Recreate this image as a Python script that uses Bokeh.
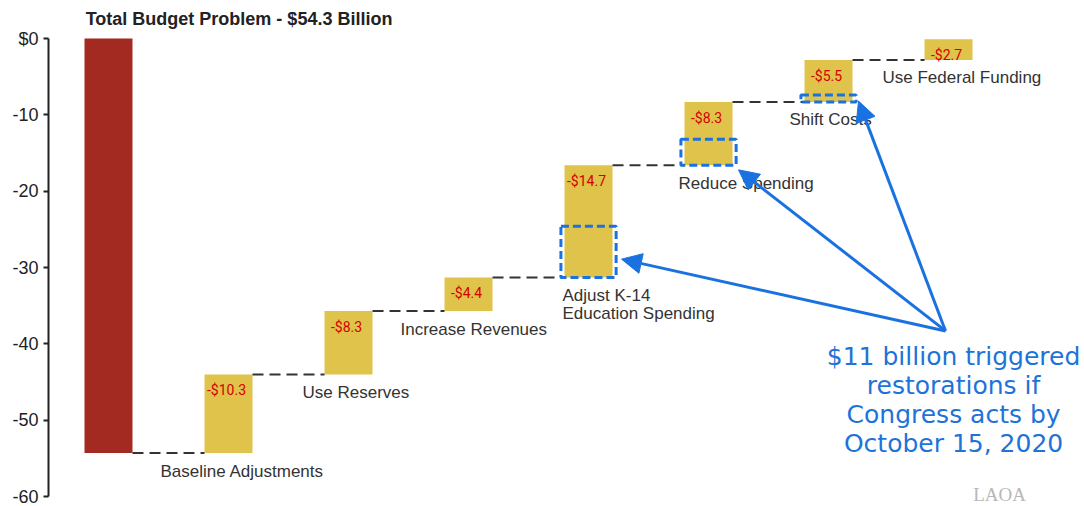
from bokeh.plotting import figure
from bokeh.models import Range1d, Label, Arrow, NormalHead, FixedTicker
from bokeh.embed import file_html
from bokeh.resources import INLINE

# ---------------- data ----------------
title_text = "Total Budget Problem - $54.3 Billion"
total_problem = -54.3
step_names = ["Baseline Adjustments", "Use Reserves", "Increase Revenues",
              "Adjust K-14\nEducation Spending", "Reduce Spending",
              "Shift Costs", "Use Federal Funding"]
step_values = [10.3, 8.3, 4.4, 14.7, 8.3, 5.5, 2.7]
step_labels = ["-$10.3", "-$8.3", "-$4.4", "-$14.7", "-$8.3", "-$5.5", "-$2.7"]
# triggered restorations (billions) drawn as dashed boxes: (step index, amount)
restore_steps = [3, 4, 5]
restore_values = [6.7, 3.4, 0.9]
note_lines = ["$11 billion triggered", "restorations if",
              "Congress acts by", "October 15, 2020"]
y_ticks = [0, -10, -20, -30, -40, -50, -60]
y_tick_labels = ["$0", "-10", "-20", "-30", "-40", "-50", "-60"]

# ---------------- styles / layout ----------------
RED = "#a32a21"
YELLOW = "#e0c34b"
BLUE = "#1a72e0"
TXT = "#333333"
BAR_W = 0.4
SANS = "Liberation Sans"

p = figure(width=1084, height=506, output_backend="svg", toolbar_location=None,
           x_range=Range1d(-0.5, 8.133), y_range=Range1d(-61.3, 4.98),
           min_border_left=48, min_border_right=0, min_border_top=0,
           min_border_bottom=0)
p.outline_line_color = None
p.grid.visible = False
p.xaxis.visible = False
p.background_fill_color = "white"
p.border_fill_color = "white"

ya = p.yaxis[0]
ya.bounds = (-60, 0)
ya.ticker = FixedTicker(ticks=y_ticks)
ya.major_label_overrides = {t: l for t, l in zip(y_ticks, y_tick_labels)}
ya.minor_tick_line_color = None
ya.major_tick_in = 0
ya.major_tick_out = 5
ya.major_tick_line_width = 2
ya.major_tick_line_color = "#222222"
ya.axis_line_width = 2
ya.axis_line_color = "#222222"
ya.major_label_text_font = SANS
ya.major_label_text_font_size = "18px"
ya.major_label_text_color = "#222222"
ya.major_label_standoff = 5

# total bar
p.vbar(x=[0], bottom=[total_problem], top=[0], width=BAR_W,
       fill_color=RED, line_color=None)

# steps
bottoms, tops = [], []
level = total_problem
for v in step_values:
    bottoms.append(level)
    level = level + v
    tops.append(level)
xs = list(range(1, len(step_values) + 1))
p.vbar(x=xs, bottom=bottoms, top=tops, width=BAR_W,
       fill_color=YELLOW, line_color=None)

# connectors
conn_x0 = [i + BAR_W / 2 for i in range(len(step_values))]
conn_x1 = [i + 1 - BAR_W / 2 for i in range(len(step_values))]
conn_y = [total_problem] + tops[:-1]
p.segment(x0=conn_x0, x1=conn_x1, y0=conn_y, y1=conn_y,
          line_color="#333333", line_width=2, line_dash="11 6")

# value labels
for x, t, lab in zip(xs, tops, step_labels):
    p.add_layout(Label(x=x, y=t, text=lab, x_offset=-2, y_offset=-16,
                       text_align="center", text_baseline="middle",
                       text_font="Roboto", text_font_size="14px",
                       text_color="#d40000"))

# category labels (left edge offsets in px from bar centre)
name_dx = [-68, -46, -68, -26, -30, -39, -66]
for x, b, name, dx in zip(xs, bottoms, step_names, name_dx):
    for k, line in enumerate(name.split("\n")):
        p.add_layout(Label(x=x, y=b, text=line, x_offset=dx,
                           y_offset=-18 - 18 * k,
                           text_align="left", text_baseline="middle",
                           text_font=SANS, text_font_size="17px",
                           text_color=TXT))

# title
p.add_layout(Label(x=-0.19, y=2.62, text=title_text, text_align="left",
                   text_baseline="middle", text_font=SANS,
                   text_font_size="18px", text_font_style="bold",
                   text_color="#222222"))

# restoration boxes
rl = [xs[i] - 0.23 for i in restore_steps]
rr = [xs[i] + 0.23 for i in restore_steps]
rb = [bottoms[i] for i in restore_steps]
rt = [bottoms[i] + v for i, v in zip(restore_steps, restore_values)]
p.quad(left=rl, right=rr, bottom=rb, top=rt, fill_color=None,
       line_color=BLUE, line_width=3, line_dash="8 4")

# arrows
tail = (6.975, -38.3)
tips = [(4.275, -28.9), (5.25, -17.2), (6.25, -8.2)]
for tx, ty in tips:
    p.add_layout(Arrow(end=NormalHead(size=20, fill_color=BLUE,
                                      line_color=BLUE, line_width=1),
                       x_start=tail[0], y_start=tail[1], x_end=tx, y_end=ty,
                       line_color=BLUE, line_width=3))

# note text
for k, line in enumerate(note_lines):
    p.add_layout(Label(x=7.042, y=-41.7, y_offset=-29 * k, text=line,
                       text_align="center", text_baseline="middle",
                       text_font="DejaVu Sans", text_font_size="25px",
                       text_color="#1e73d8"))

# logo
p.add_layout(Label(x=7.425, y=-59.7, text="LAOA", text_align="center",
                   text_baseline="middle", text_font="Liberation Serif",
                   text_font_size="19px", text_color="#b8b8b8"))

open("out.html", "w").write(file_html(p, INLINE))
